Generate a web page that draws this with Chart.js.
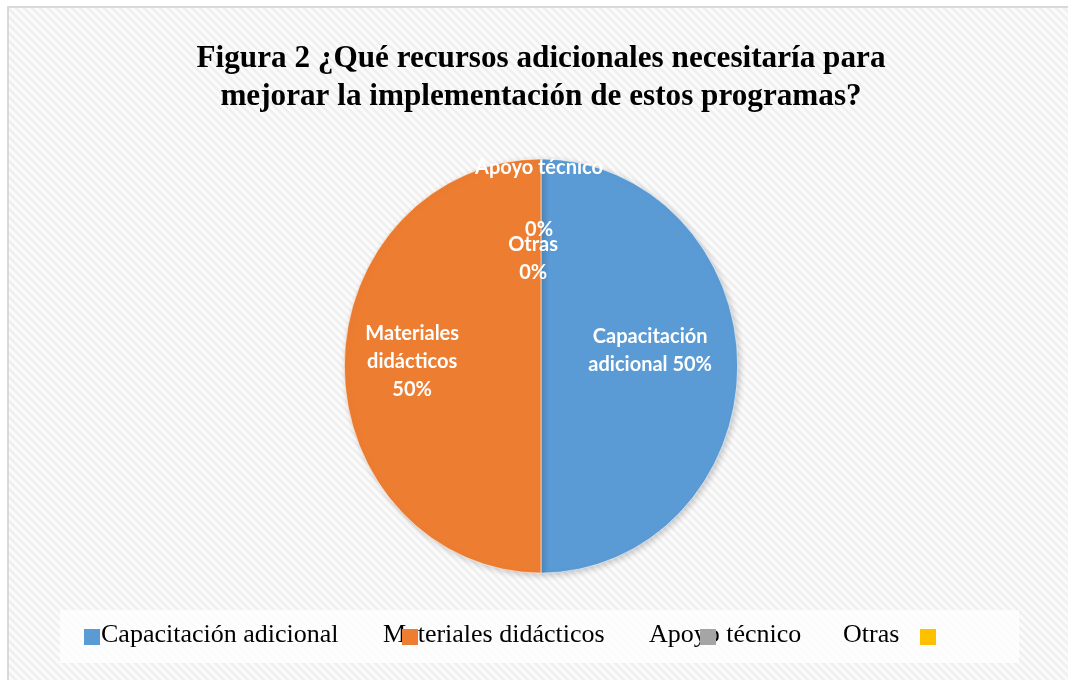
<!DOCTYPE html>
<html>
<head>
<meta charset="utf-8">
<script src="https://cdn.jsdelivr.net/npm/chart.js@4.4.1/dist/chart.umd.min.js"></script>
<style>
  html, body { margin: 0; padding: 0; background: #ffffff; }
  #wrap { width: 1068px; height: 680px; }
</style>
</head>
<body>
<div id="wrap"><canvas id="pieChart" width="1068" height="680"></canvas></div>
<script>
// DATA
const categories = ["Capacitación adicional", "Materiales didácticos", "Apoyo técnico", "Otras"];
const percentages = [50, 50, 0, 0];
const sliceColors = ["#5b9bd5", "#ed7d31", "#a5a5a5", "#ffc000"];
const titleLines = ["Figura 2 ¿Qué recursos adicionales necesitaría para", "mejorar la implementación de estos programas?"];

// label text for each slice (split in lines like the original)
function sliceLabel(i){
  const v = percentages[i] + "%";
  if(i === 0) return ["Capacitación", "adicional " + v];
  if(i === 1) return ["Materiales", "didácticos", v];
  if(i === 2) return ["Apoyo técnico", "", v];
  return ["Otras", v];
}

// LAYOUT (not data): label centre offsets, in radius units from the pie centre
const labelOffsets = [[0.555, -0.075], [-0.655, -0.02], [-0.01, -0.81], [-0.04, -0.52]];
const labelLineHeights = [28, 28, 31, 28];
// legend item positions
const legendBox = {x: 60, y: 610, w: 959, h: 53};
const legendTextX = [101, 383, 649, 843];
const legendMarkX = [84, 402, 700, 920];

const yStretch = 1.053;

// BACKGROUND PATTERN
function makePattern(ctx){
  const p = document.createElement("canvas");
  p.width = 8; p.height = 8;
  const c = p.getContext("2d");
  c.fillStyle = "#fbfbfb";
  c.fillRect(0, 0, 8, 8);
  c.strokeStyle = "#efefef";
  c.lineWidth = 2.5;
  c.beginPath();
  c.moveTo(-2, -2); c.lineTo(10, 10);
  c.moveTo(-6, 2); c.lineTo(2, 10);
  c.moveTo(6, -2); c.lineTo(10, 2);
  c.stroke();
  return ctx.createPattern(p, "repeat");
}

const backgroundPlugin = {
  id: "bg",
  beforeDraw(chart){
    const ctx = chart.ctx;
    ctx.save();
    ctx.fillStyle = "#ffffff";
    ctx.fillRect(0, 0, chart.width, chart.height);
    ctx.fillStyle = makePattern(ctx);
    ctx.fillRect(8, 7, chart.width - 8, chart.height - 7);
    ctx.strokeStyle = "#d9d9d9";
    ctx.lineWidth = 2;
    ctx.beginPath();
    ctx.moveTo(8, chart.height);
    ctx.lineTo(8, 7);
    ctx.lineTo(chart.width, 7);
    ctx.stroke();
    ctx.restore();
  }
};

// stretch the pie a little vertically, with a soft shadow
const stretchPlugin = {
  id: "stretch",
  beforeDatasetsDraw(chart){
    const arc = chart.getDatasetMeta(0).data[0];
    const ctx = chart.ctx;
    ctx.save();
    ctx.translate(arc.x, arc.y);
    ctx.scale(1, yStretch);
    ctx.translate(-arc.x, -arc.y);
    ctx.shadowColor = "rgba(0,0,0,0.2)";
    ctx.shadowBlur = 6;
    ctx.shadowOffsetX = 2;
    ctx.shadowOffsetY = 2;
  },
  afterDatasetsDraw(chart){
    chart.ctx.restore();
  }
};

const labelPlugin = {
  id: "sliceLabels",
  afterDatasetsDraw(chart){
    const ctx = chart.ctx;
    const meta = chart.getDatasetMeta(0);
    ctx.save();
    ctx.fillStyle = "#ffffff";
    ctx.font = "bold 20px Lato";
    ctx.textAlign = "center";
    ctx.textBaseline = "middle";
    meta.data.forEach(function(arc, i){
      const r = arc.outerRadius;
      const lh = labelLineHeights[i];
      const cx = arc.x + labelOffsets[i][0] * r;
      const cy = arc.y + labelOffsets[i][1] * r * yStretch;
      const lines = sliceLabel(i);
      const h = (lines.length - 1) * lh;
      lines.forEach(function(t, k){
        if(t) ctx.fillText(t, cx, cy - h / 2 + k * lh);
      });
    });
    ctx.restore();
  }
};

const legendPlugin = {
  id: "customLegend",
  afterDraw(chart){
    const ctx = chart.ctx;
    ctx.save();
    ctx.fillStyle = "rgba(255,255,255,0.75)";
    ctx.fillRect(legendBox.x, legendBox.y, legendBox.w, legendBox.h);
    ctx.font = "26px 'Liberation Serif'";
    ctx.textBaseline = "alphabetic";
    ctx.textAlign = "left";
    categories.forEach(function(name, i){
      ctx.fillStyle = "#000000";
      ctx.fillText(name, legendTextX[i], 642);
      ctx.fillStyle = sliceColors[i];
      ctx.fillRect(legendMarkX[i], 629, 16, 16);
    });
    ctx.restore();
  }
};

// CHART
new Chart(document.getElementById("pieChart"), {
  type: "pie",
  data: {
    labels: categories,
    datasets: [{
      data: percentages,
      backgroundColor: sliceColors,
      borderColor: "#ffffff",
      borderWidth: 0.6
    }]
  },
  options: {
    responsive: false,
    animation: false,
    layout: { padding: { left: 14, right: 0, top: 0, bottom: 117 } },
    plugins: {
      legend: { display: false },
      tooltip: { enabled: false },
      title: {
        display: true,
        text: titleLines,
        color: "#000000",
        font: { family: "'Liberation Serif'", size: 31.2, weight: "bold", lineHeight: 1.218 },
        padding: { top: 40, bottom: 53 }
      }
    }
  },
  plugins: [backgroundPlugin, stretchPlugin, labelPlugin, legendPlugin]
});
</script>
</body>
</html>
